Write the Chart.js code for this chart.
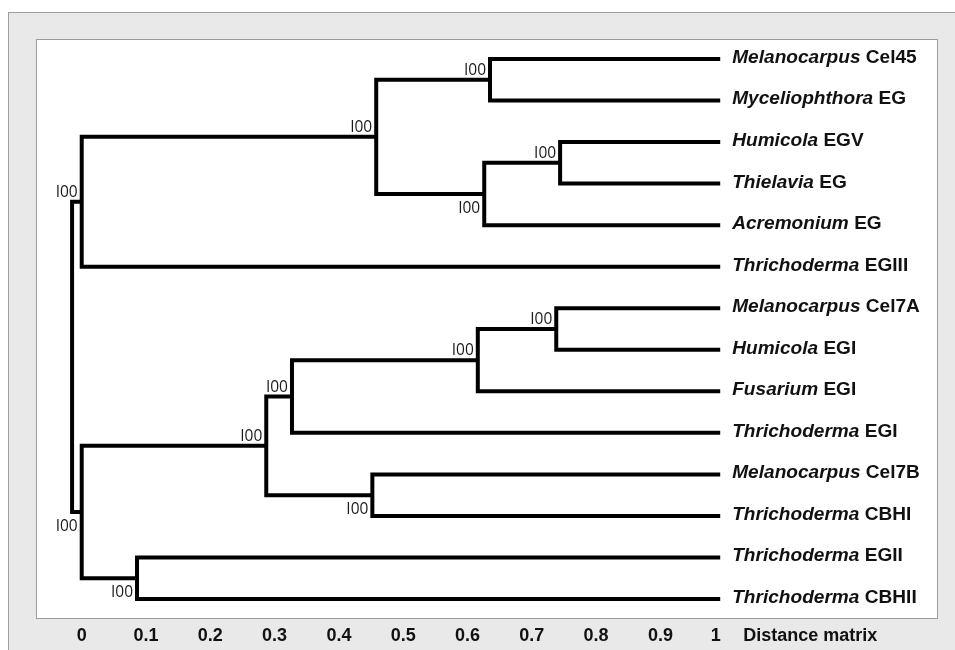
<!DOCTYPE html>
<html>
<head>
<meta charset="utf-8">
<script src="https://cdn.jsdelivr.net/npm/chart.js@4.4.1/dist/chart.umd.min.js"></script>
<style>
html,body{margin:0;padding:0;overflow:hidden;background:#fff;}
#wrap{position:relative;width:955px;height:680px;}
</style>
</head>
<body>
<div id="wrap"><canvas id="tree"></canvas></div>
<script>
// leaves, top to bottom
const leafGenus = ["Melanocarpus","Myceliophthora","Humicola","Thielavia","Acremonium","Thrichoderma",
  "Melanocarpus","Humicola","Fusarium","Thrichoderma","Melanocarpus","Thrichoderma","Thrichoderma","Thrichoderma"];
const leafCode = ["Cel45","EG","EGV","EG","EG","EGIII","Cel7A","EGI","EGI","EGI","Cel7B","CBHI","EGII","CBHII"];
const leafDistance = 0.993;

// internal nodes get ids 14, 15, ... in this order (linkage style)
const nodeLeft     = [0, 2, 15, 14, 17, 6, 19, 20, 10, 21, 12, 23, 18];
const nodeRight    = [1, 3, 4, 16, 5, 7, 8, 9, 11, 22, 13, 24, 25];
const nodeDistance = [0.635, 0.744, 0.626, 0.458, 0.0, 0.738, 0.616, 0.327, 0.452, 0.287, 0.086, 0.0, -0.015];
const nodeSupport  = ["I00","I00","I00","I00","I00","I00","I00","I00","I00","I00","I00","I00",null];
const supportSide  = ["above","above","below","above","above","above","above","above","below","above","below","below",null];

// axis row
const tickValues = [0, 0.1, 0.2, 0.3, 0.4, 0.5, 0.6, 0.7, 0.8, 0.9, 0.986, 1.133];
const tickLabels = ["0","0.1","0.2","0.3","0.4","0.5","0.6","0.7","0.8","0.9","1","Distance matrix"];

const nLeaf = leafGenus.length;
const posX = [], posY = [];
for (let i = 0; i < nLeaf; i++) { posX[i] = leafDistance; posY[i] = i; }
nodeLeft.forEach((a, k) => {
  const b = nodeRight[k];
  posX[nLeaf + k] = nodeDistance[k];
  posY[nLeaf + k] = (posY[a] + posY[b]) / 2;
});

const datasets = nodeLeft.map((a, k) => {
  const b = nodeRight[k], id = nLeaf + k;
  return {
    data: [
      {x: posX[a], y: posY[a]},
      {x: posX[id], y: posY[a]},
      {x: posX[id], y: posY[b]},
      {x: posX[b], y: posY[b]}
    ],
    showLine: true,
    borderColor: "#000",
    borderWidth: 4,
    borderJoinStyle: "miter",
    borderCapStyle: "butt",
    pointRadius: 0,
    tension: 0
  };
});

const frame = {
  id: "frame",
  beforeDraw(chart) {
    const {ctx, chartArea: a} = chart;
    ctx.save();
    ctx.fillStyle = "#fff";
    ctx.fillRect(0, 0, chart.width, chart.height);
    ctx.fillStyle = "#e9e9e9";
    ctx.fillRect(8, 12, chart.width + 50, chart.height + 50);
    ctx.strokeStyle = "#a0a0a0";
    ctx.lineWidth = 1;
    ctx.strokeRect(8.5, 12.5, chart.width + 50, chart.height + 50);
    ctx.fillStyle = "#fff";
    ctx.fillRect(a.left, a.top, a.right - a.left, a.bottom - a.top);
    ctx.strokeStyle = "#9c9c9c";
    ctx.strokeRect(a.left + 0.5, a.top + 0.5, a.right - a.left - 1, a.bottom - a.top - 1);
    ctx.restore();
  },
  afterDatasetsDraw(chart) {
    const {ctx, scales: {x, y}} = chart;
    ctx.save();
    ctx.fillStyle = "#111";
    ctx.textBaseline = "middle";
    ctx.textAlign = "left";
    const stretch = 1.06;
    for (let i = 0; i < nLeaf; i++) {
      const px = x.getPixelForValue(leafDistance) + 12;
      const py = y.getPixelForValue(posY[i]) - 1;
      ctx.save();
      ctx.translate(px, py);
      ctx.scale(stretch, 1);
      ctx.font = "italic bold 18px 'Liberation Sans', Arial, sans-serif";
      ctx.fillText(leafGenus[i], 0, 0);
      const w = ctx.measureText(leafGenus[i] + " ").width;
      ctx.font = "bold 18px 'Liberation Sans', Arial, sans-serif";
      ctx.fillText(leafCode[i], w, 0);
      ctx.restore();
    }
    ctx.font = "15.5px 'Open Sans', sans-serif";
    ctx.textAlign = "right";
    ctx.textBaseline = "alphabetic";
    ctx.fillStyle = "#1a1a1a";
    nodeSupport.forEach((s, k) => {
      if (!s) return;
      const id = nLeaf + k;
      const px = x.getPixelForValue(posX[id]) - 4;
      const py = y.getPixelForValue(posY[id]);
      ctx.fillText(s, px, supportSide[k] === "below" ? py + 19 : py - 5);
    });
    ctx.restore();
  }
};

new Chart(document.getElementById("tree"), {
  type: "scatter",
  data: {datasets},
  options: {
    responsive: true,
    maintainAspectRatio: false,
    animation: false,
    events: [],
    layout: {padding: {left: 36, top: 39, right: 17, bottom: 27.4}},
    plugins: {legend: {display: false}, tooltip: {enabled: false}},
    scales: {
      x: {
        type: "linear",
        min: -0.0711,
        max: 1.3317,
        afterBuildTicks: axis => { axis.ticks = tickValues.map(v => ({value: v})); },
        ticks: {
          autoSkip: false,
          maxRotation: 0,
          padding: 6,
          color: "#111",
          font: {family: "'Liberation Sans', Arial, sans-serif", size: 18, weight: "bold"},
          callback: (v, i) => tickLabels[i]
        },
        grid: {display: false, drawTicks: false},
        border: {display: false}
      },
      y: {
        type: "linear",
        reverse: true,
        min: -0.481,
        max: 13.481,
        display: false
      }
    }
  },
  plugins: [frame]
});
</script>
</body>
</html>
